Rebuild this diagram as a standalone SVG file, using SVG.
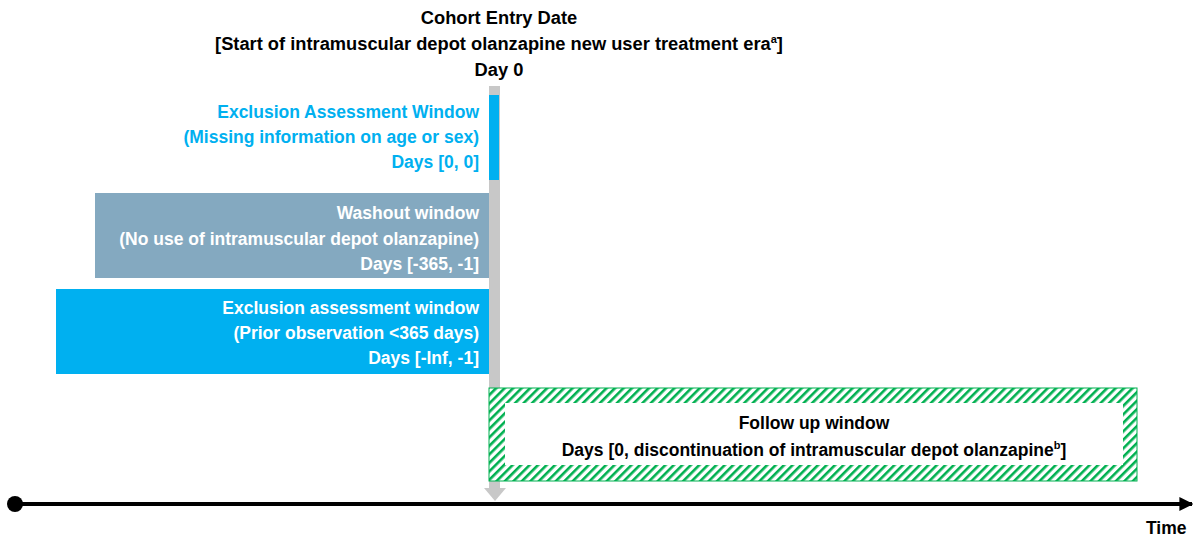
<svg xmlns="http://www.w3.org/2000/svg" width="1195" height="538" viewBox="0 0 1195 538">
<defs>
<style>
text{font-family:"Liberation Sans",Arial,sans-serif;font-weight:bold;font-size:17.5px}
.h{font-size:18.3px}
.c{text-anchor:middle;fill:#000}
.r{text-anchor:end}
.w{fill:#fff}
.b{fill:#00B0F0}
.sup{font-size:11px}
</style>
<pattern id="hatch" patternUnits="userSpaceOnUse" width="6" height="6" patternTransform="rotate(45)">
<rect width="6" height="6" fill="#fff"/>
<rect x="0" y="0" width="2.6" height="6" fill="#00B050"/>
</pattern>
<marker id="arr" viewBox="0 0 10 10" refX="9" refY="5" markerWidth="3.5" markerHeight="4.2" markerUnits="strokeWidth" orient="auto">
<path d="M0,0 L10,5 L0,10 Z" fill="#000"/>
</marker>
</defs>
<g id="header">
<text class="c h" x="499" y="24">Cohort Entry Date</text>
<text class="c h" x="499" y="50">[Start of intramuscular depot olanzapine new user treatment era<tspan class="sup" dy="-7">a</tspan><tspan dy="7">]</tspan></text>
<text class="c h" x="499" y="76">Day 0</text>
</g>
<g id="connectors">
<rect x="489" y="86" width="11" height="403" fill="#C8C8C8"/>
<polygon points="484,488 506,488 495,501" fill="#C8C8C8"/>
<line x1="15" y1="504" x2="1192" y2="504" stroke="#000" stroke-width="4" marker-end="url(#arr)"/>
<circle cx="15" cy="504" r="8" fill="#000"/>
</g>
<g id="exclusion-missing">
<rect x="489" y="95" width="10" height="85" fill="#00B0F0"/>
<text class="r b" x="479" y="118">Exclusion Assessment Window</text>
<text class="r b" x="479" y="143">(Missing information on age or sex)</text>
<text class="r b" x="479" y="168">Days [0, 0]</text>
</g>
<g id="washout">
<rect x="95" y="193" width="394" height="85" fill="#84A9C0"/>
<text class="r w" x="479" y="219">Washout window</text>
<text class="r w" x="479" y="245">(No use of intramuscular depot olanzapine)</text>
<text class="r w" x="479" y="270">Days [-365, -1]</text>
</g>
<g id="exclusion-prior">
<rect x="56" y="289" width="433" height="85" fill="#00B0F0"/>
<text class="r w" x="479" y="314">Exclusion assessment window</text>
<text class="r w" x="479" y="339">(Prior observation &lt;365 days)</text>
<text class="r w" x="479" y="364">Days [-Inf, -1]</text>
</g>
<g id="followup">
<rect x="489" y="388" width="648" height="93" fill="url(#hatch)" stroke="#00B050" stroke-width="1"/>
<rect x="505" y="403" width="618" height="62" fill="#fff"/>
<text class="c" x="814" y="429">Follow up window</text>
<text class="c" x="814" y="456">Days [0, discontinuation of intramuscular depot olanzapine<tspan class="sup" dy="-7">b</tspan><tspan dy="7">]</tspan></text>
</g>
<g id="axis-label">
<text x="1146" y="534">Time</text>
</g>
</svg>
